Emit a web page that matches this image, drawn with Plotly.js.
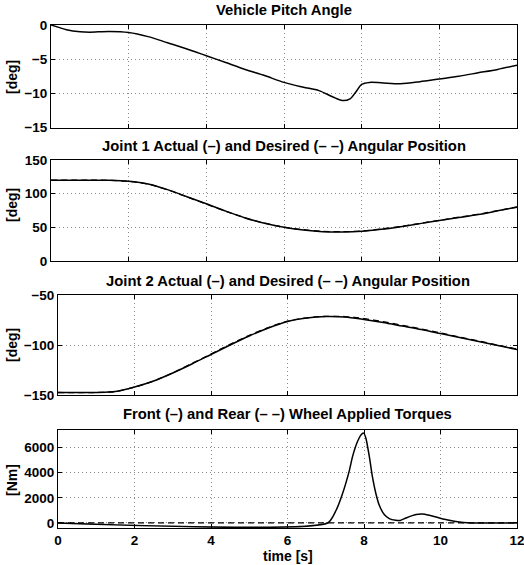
<!DOCTYPE html>
<html>
<head>
<meta charset="utf-8">
<script src="https://cdn.plot.ly/plotly-3.0.1.min.js"></script>
<style>html,body{margin:0;padding:0;background:#fff;}#chart{width:524px;height:565px;}</style>
</head>
<body>
<div id="chart"></div>
<script>
// ---- data ----
var pitchT = [0,0.2,0.4,0.75,1.0,1.5,2.0,2.5,3,3.5,4,4.5,5,5.5,6,6.5,6.9,7.25,7.5,7.7,7.85,8.0,8.2,8.5,9,9.5,10,10.5,11,11.5,12];
var pitchDeg = [0,-0.35,-0.7,-1.0,-1.05,-0.95,-1.1,-1.7,-2.6,-3.5,-4.5,-5.5,-6.5,-7.4,-8.4,-9.1,-9.6,-10.5,-11.05,-10.8,-9.8,-8.7,-8.4,-8.45,-8.6,-8.3,-7.9,-7.5,-7.0,-6.5,-5.9];

var jointT = [0,1,1.5,2,2.5,3,3.5,4,4.5,5,5.5,6,6.5,7,7.5,8,8.5,9,9.5,10,10.5,11,11.5,12];
var joint1Actual  = [120,120,119.8,118.5,114.5,106,95.5,85,74,64,56,50,46,43.5,43,44,47,51,55.5,60,64.5,69,74.5,80];
var joint1Desired = [120,120,119.8,118.3,114.2,105.8,95.2,84.5,73.8,64,56.2,50.3,46.5,44,43.5,44.5,47.5,51.3,55.8,60.4,65,69.4,74.8,80.2];
var joint2Actual  = [-147.5,-147.5,-146.5,-142,-136,-128,-119,-109.5,-100,-91,-83,-76.5,-73,-71.5,-72,-74.5,-77.5,-81,-84.5,-88.5,-92.5,-96.5,-100.5,-104.5];
var joint2Desired = [-147.5,-147.5,-146.6,-142.2,-136,-127.8,-118.5,-109,-99.3,-90.3,-82.5,-76.2,-72.8,-71.4,-71.6,-73.6,-76.6,-80.3,-84,-88,-92,-96,-100.2,-104];

var torqueT = [0,7.05,7.27,7.44,7.62,7.7,7.83,7.92,7.99,8.05,8.14,8.22,8.31,8.4,8.53,8.66,8.83,8.95,9.1,9.36,9.53,9.71,9.97,10.23,10.49,10.7,11,12];
var frontTorque = [0,0,1010,2350,4210,5280,6480,7010,7150,6750,5280,3680,2350,1410,670,350,215,200,400,670,720,610,400,210,80,20,0,0];
var rearT = [0,3,6,9,12];
var rearTorque = [0,0,0,0,0];

var titles = ['Vehicle Pitch Angle',
  'Joint 1 Actual (\u2013) and Desired (\u2013 \u2013) Angular Position',
  'Joint 2 Actual (\u2013) and Desired (\u2013 \u2013) Angular Position',
  'Front (\u2013) and Rear (\u2013 \u2013) Wheel Applied Torques'];
var yTitles = ['[deg]','[deg]','[deg]','[Nm]'];
var xTitle = 'time [s]';
var xTicks = [0,2,4,6,8,10,12];
var xTickText = ['0','2','4','6','8','10','12'];
var pitchTicks = [-15,-10,-5,0];
var pitchTickText = ['\u221215','\u221210','\u22125','0'];
var joint1Ticks = [0,50,100,150];
var joint1TickText = ['0','50','100','150'];
var joint2Ticks = [-150,-100,-50];
var joint2TickText = ['\u2212150','\u2212100','\u221250'];
var torqueTicks = [0,2000,4000,6000];
var torqueTickText = ['0','2000','4000','6000'];

// ---- traces ----
var solid = {color:'#000', width:1.5, shape:'spline', smoothing:0.8};
var dashed = {color:'#000', width:1.3, dash:'6px,4px', shape:'spline', smoothing:0.8};
var traces = [
  {x:pitchT, y:pitchDeg, xaxis:'x', yaxis:'y', mode:'lines', line:solid},
  {x:jointT, y:joint1Desired, xaxis:'x2', yaxis:'y2', mode:'lines', line:dashed},
  {x:jointT, y:joint1Actual, xaxis:'x2', yaxis:'y2', mode:'lines', line:solid},
  {x:jointT, y:joint2Desired, xaxis:'x3', yaxis:'y3', mode:'lines', line:dashed},
  {x:jointT, y:joint2Actual, xaxis:'x3', yaxis:'y3', mode:'lines', line:solid},
  {x:rearT, y:rearTorque, xaxis:'x4', yaxis:'y4', mode:'lines', line:{color:'#000', width:1.3, dash:'6px,4px'}},
  {x:torqueT, y:frontTorque, xaxis:'x4', yaxis:'y4', mode:'lines', line:{color:'#000', width:1.5, shape:'spline', smoothing:0.6}}
];

var W = 524, H = 565;
var FAM = 'Liberation Sans, Arial, Helvetica, sans-serif';
var tickFont = {family:FAM, size:13.5, color:'#000'};
function bold(a){ return a.map(function(s){ return '<b>'+s+'</b>'; }); }
function xAx(l, r, labels){
  return {domain:[l/W, r/W], range:[0,12], tickmode:'array', tickvals:xTicks, ticktext:bold(xTickText),
    showticklabels:labels, ticklabeloverflow:'allow',
    ticks:'inside', ticklen:4, tickcolor:'#000', showline:true, linecolor:'#000', linewidth:1,
    mirror:'ticks', showgrid:true, gridcolor:'#8c8c8c', griddash:'1px,3px', gridwidth:1,
    zeroline:false, tickfont:tickFont, fixedrange:true};
}
function yAx(top, bot, range, vals, txt, anchor){
  return {domain:[1-bot/H, 1-top/H], range:range, tickmode:'array', tickvals:vals, ticktext:bold(txt), anchor:anchor,
    ticklabeloverflow:'allow',
    ticks:'inside', ticklen:4, tickcolor:'#000', showline:true, linecolor:'#000', linewidth:1,
    mirror:'ticks', showgrid:true, gridcolor:'#8c8c8c', griddash:'1px,3px', gridwidth:1,
    zeroline:false, tickfont:tickFont, fixedrange:true};
}

var ann = [];
var titleY = [10, 146, 281, 414];
var titleX = [284, 284, 287.5, 287.5];
for (var i=0;i<4;i++){
  ann.push({text:'<b>'+titles[i]+'</b>', xref:'paper', yref:'paper', x:titleX[i]/W, y:1-titleY[i]/H,
    xanchor:'center', yanchor:'middle', showarrow:false,
    font:{family:FAM, size:14.8, color:'#000'}});
}
var yTitleY = [77, 205, 345, 480];
for (var j=0;j<4;j++){
  ann.push({text:'<b>'+yTitles[j]+'</b>', xref:'paper', yref:'paper', x:12/W, y:1-yTitleY[j]/H,
    xanchor:'center', yanchor:'middle', textangle:-90, showarrow:false,
    font:{family:FAM, size:14, color:'#000'}});
}
ann.push({text:'<b>'+xTitle+'</b>', xref:'paper', yref:'paper', x:287.5/W, y:1-556/H,
  xanchor:'center', yanchor:'middle', showarrow:false,
  font:{family:FAM, size:14, color:'#000'}});

var layout = {
  width:W, height:H, margin:{l:0, r:0, t:0, b:0},
  paper_bgcolor:'#fff', plot_bgcolor:'#fff', showlegend:false,
  xaxis: xAx(51, 517, false),
  xaxis2: xAx(51, 517, false),
  xaxis3: xAx(58, 517, false),
  xaxis4: xAx(58, 517, true),
  yaxis: yAx(25, 127.5, [-15,0], pitchTicks, pitchTickText, 'x'),
  yaxis2: yAx(160, 261, [0,150], joint1Ticks, joint1TickText, 'x2'),
  yaxis3: yAx(295, 395, [-150,-50], joint2Ticks, joint2TickText, 'x3'),
  yaxis4: yAx(430, 528, [-400,7400], torqueTicks, torqueTickText, 'x4'),
  annotations: ann
};
layout.xaxis.anchor='y'; layout.xaxis2.anchor='y2'; layout.xaxis3.anchor='y3'; layout.xaxis4.anchor='y4';

Plotly.newPlot('chart', traces, layout, {staticPlot:true, displayModeBar:false});
</script>
</body>
</html>
